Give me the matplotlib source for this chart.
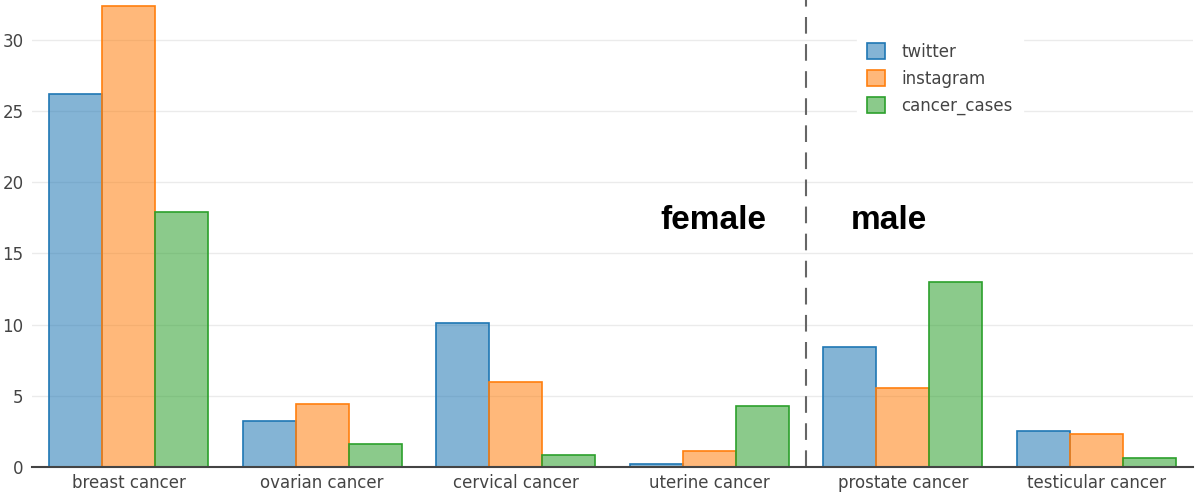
import numpy as np
import matplotlib
matplotlib.use("Agg")
from matplotlib import pyplot as plt
from matplotlib.patches import Patch

categories = ["breast cancer", "ovarian cancer", "cervical cancer",
              "uterine cancer", "prostate cancer", "testicular cancer"]
twitter = [26.2, 3.2, 10.1, 0.2, 8.4, 2.55]
instagram = [32.4, 4.4, 6.0, 1.15, 5.55, 2.35]
cancer_cases = [17.9, 1.6, 0.85, 4.3, 13.0, 0.6]
series_names = ["twitter", "instagram", "cancer_cases"]
colors = ["#1f77b4", "#ff7f0e", "#2ca02c"]

plt.rcParams['font.family'] = ['DejaVu Sans']

fig = plt.figure(figsize=(12, 4.97), dpi=100)
ax = fig.add_axes([32 / 1200, 1 - 467 / 497, 1161 / 1200, 467 / 497])

x = np.arange(len(categories))
w = 0.274
for i, (vals, name, c) in enumerate(zip([twitter, instagram, cancer_cases], series_names, colors)):
    ax.bar(x + (i - 1) * w, vals, width=w, color=c, alpha=0.55, label=name, zorder=3)
    ax.bar(x + (i - 1) * w, vals, width=w, facecolor="none", edgecolor=c, linewidth=1.2, zorder=4)

ax.set_xlim(-0.5, 5.5)
ax.set_ylim(0, 32.8)
ax.set_yticks([0, 5, 10, 15, 20, 25, 30])
ax.set_xticks(x)
ax.set_xticklabels(categories)
ax.tick_params(axis="both", length=0, labelsize=12, colors="#444444")
ax.tick_params(axis="x", pad=5)
ax.tick_params(axis="y", pad=6)
ax.yaxis.grid(True, color="#ebebeb", linewidth=1, zorder=0)
for s in ["top", "right", "left"]:
    ax.spines[s].set_visible(False)
ax.spines["bottom"].set_color("#444444")
ax.spines["bottom"].set_linewidth(1.5)
ax.spines["bottom"].set_zorder(5)

ax.axvline(3.5, color="#666666", linestyle=(0, (8, 5)), linewidth=1.5, zorder=5)
ax.text(3.02, 17.3, "female", fontsize=24, fontweight="bold", ha="center", va="center",
        family="Liberation Sans", color="black")
ax.text(3.93, 17.3, "male", fontsize=24, fontweight="bold", ha="center", va="center",
        family="Liberation Sans", color="black")

# legend patches with visible edges
handles = [Patch(facecolor=matplotlib.colors.to_rgba(c, 0.55), edgecolor=c, linewidth=1.2, label=n)
           for c, n in zip(colors, series_names)]
leg = ax.legend(handles=handles, loc="upper left", bbox_to_anchor=(0.703, 0.948),
                frameon=True, fontsize=12, handlelength=1.1, handleheight=1.1,
                handletextpad=1.0, labelspacing=0.55, borderpad=0.6, fancybox=False)
leg.get_frame().set_edgecolor("white")
leg.get_frame().set_facecolor("white")
leg.get_frame().set_alpha(1)
for t in leg.get_texts():
    t.set_color("#444444")
leg.set_zorder(6)

plt.savefig("out.png", dpi=100)
